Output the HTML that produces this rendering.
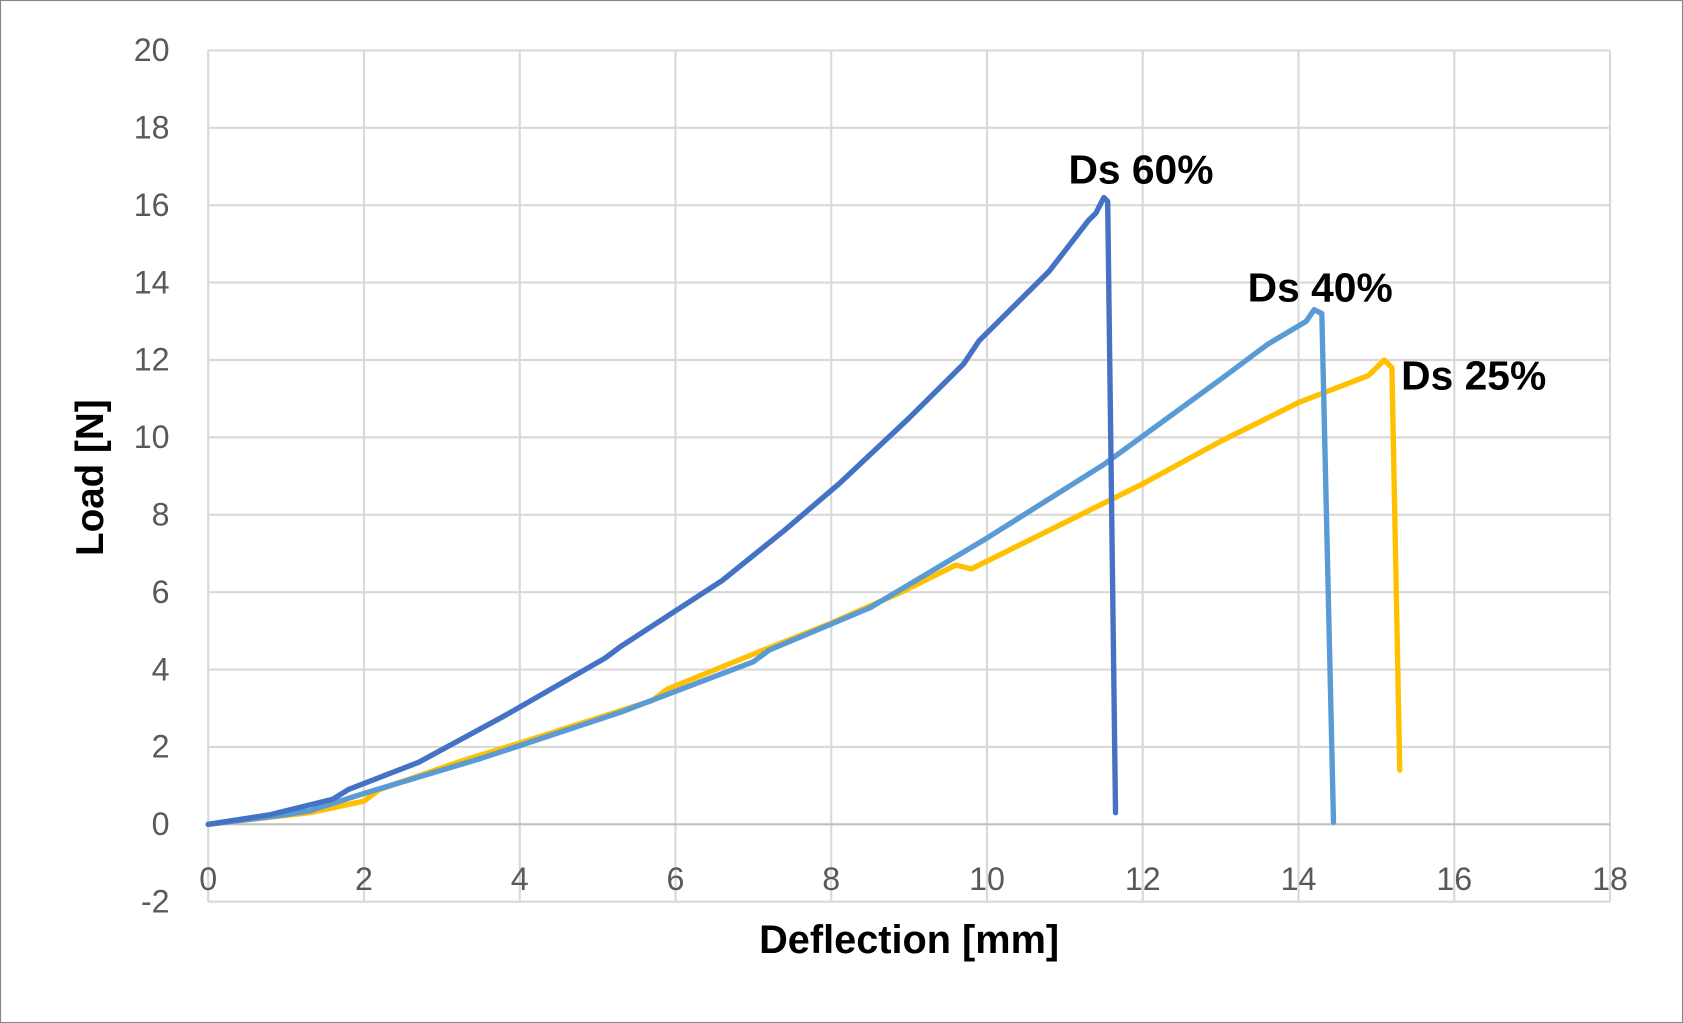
<!DOCTYPE html>
<html><head><meta charset="utf-8"><style>
html,body{margin:0;padding:0;background:#fff;}
svg{display:block;font-family:"Liberation Sans",Calibri,sans-serif;}
</style></head><body>
<svg id="chart" width="1683" height="1023" viewBox="0 0 1568 953" preserveAspectRatio="none" xmlns="http://www.w3.org/2000/svg">
<rect x="0.5" y="0.5" width="1567" height="952" fill="#fff" stroke="#888" stroke-width="1"/>
<g id="grid"></g><g id="ticks"></g><g id="series"></g>
<text x="847" y="888" text-anchor="middle" font-size="37" font-weight="bold" fill="#000">Deflection [mm]</text>
<text transform="translate(96,445) rotate(-90)" text-anchor="middle" font-size="36" font-weight="bold" fill="#000">Load [N]</text>
<text x="1063" y="171" text-anchor="middle" font-size="38" font-weight="bold" fill="#000">Ds 60%</text>
<text x="1230" y="281" text-anchor="middle" font-size="38" font-weight="bold" fill="#000">Ds 40%</text>
<text x="1373" y="363" text-anchor="middle" font-size="38" font-weight="bold" fill="#000">Ds 25%</text>
</svg>
<script>
const xTicks=[0,2,4,6,8,10,12,14,16,18];
const yTicks=[-2,0,2,4,6,8,10,12,14,16,18,20];
const ds60X=[0,0.8,1.6,1.8,2.7,3.8,5.1,5.3,6.6,7.4,8.1,9,9.7,9.9,10.8,11.3,11.4,11.5,11.55,11.65];
const ds60Y=[0,0.25,0.65,0.9,1.6,2.8,4.3,4.6,6.3,7.6,8.8,10.5,11.9,12.5,14.3,15.6,15.8,16.2,16.1,0.3];
const ds40X=[0,1,1.3,2,3.5,5.3,7,7.2,8.5,10,11.5,13,13.6,14.1,14.2,14.3,14.45];
const ds40Y=[0,0.25,0.35,0.8,1.7,2.9,4.2,4.5,5.6,7.4,9.3,11.5,12.4,13,13.3,13.2,0.05];
const ds25X=[0,1.3,2,2.2,3.2,4,5.7,5.9,7,8,8.9,9.6,9.8,10.5,12,13,14,14.9,15.1,15.2,15.3];
const ds25Y=[0,0.3,0.6,0.9,1.6,2.1,3.2,3.5,4.4,5.2,6,6.7,6.6,7.3,8.8,9.9,10.9,11.6,12,11.8,1.4];
const NS="http://www.w3.org/2000/svg";
const X0=194,X1=1500,Y0=840,Y1=47;
const sx=v=>X0+(v-0)/(18-0)*(X1-X0);
const sy=v=>Y0-(v+2)/(22)*(Y0-Y1);
function mk(t,a,p){const e=document.createElementNS(NS,t);for(const k in a)e.setAttribute(k,a[k]);p.appendChild(e);return e;}
const grid=document.getElementById('grid'),ticks=document.getElementById('ticks'),ser=document.getElementById('series');
xTicks.forEach(v=>{
 const l=mk('line',{x1:sx(v),x2:sx(v),y1:Y1,y2:Y0,stroke:'#d9d9d9','stroke-width':2},grid);
 
 
 const t=mk('text',{x:sx(v),y:829,'text-anchor':'middle','font-size':30,fill:'#595959'},ticks);
 t.textContent=v;
 
 
});
yTicks.forEach(v=>{
 const l=mk('line',{x1:X0,x2:X1,y1:sy(v),y2:sy(v),stroke:v===0?'#bfbfbf':'#d9d9d9','stroke-width':2},grid);
 
 
 const t=mk('text',{x:158,y:sy(v)+10,'text-anchor':'end','font-size':30,fill:'#595959'},ticks);
 t.textContent=v;
 
 
});
function line(xs,ys,c,name){
 const d=xs.map((x,i)=>(i?'L':'M')+sx(x).toFixed(1)+','+sy(ys[i]).toFixed(1)).join(' ');
 const p=mk('path',{d:d,fill:'none',stroke:c,'stroke-width':5,'stroke-linejoin':'round','stroke-linecap':'round'},ser);
 
 
}
line(ds25X,ds25Y,'#FFC000','series-ds-25');
line(ds40X,ds40Y,'#5B9BD5','series-ds-40');
line(ds60X,ds60Y,'#4472C4','series-ds-60');
</script>
</body></html>
